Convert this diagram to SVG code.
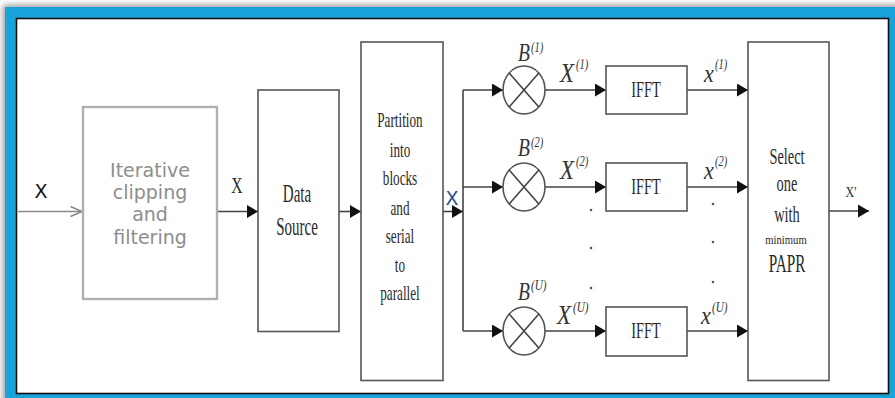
<svg xmlns="http://www.w3.org/2000/svg" width="895" height="398" viewBox="0 0 895 398">
<style>
.box{fill:#fff;stroke:#555;stroke-width:1.6}
.gbox{fill:#fff;stroke:#b0b0b0;stroke-width:2.4}
.ln{fill:none;stroke:#444;stroke-width:1.6}
.gln{fill:none;stroke:#8a8a8a;stroke-width:1.6}
.mul{fill:#fff;stroke:#555;stroke-width:1.6}
.tm{font-family:"Liberation Serif","Times New Roman",serif;fill:#2a2a2a;text-anchor:middle}
.ti{font-family:"Liberation Serif","Times New Roman",serif;font-style:italic;fill:#333}
.ts{font-family:"DejaVu Sans",Verdana,sans-serif;font-size:19px}
.dot{fill:#555}
</style>
<defs>
<marker id="ah" markerUnits="userSpaceOnUse" markerWidth="12" markerHeight="14" refX="11" refY="6.5" orient="auto">
<path d="M0,0 L11,6.5 L0,13 z" fill="#111"/>
</marker>
<marker id="oh" markerUnits="userSpaceOnUse" markerWidth="14" markerHeight="14" refX="12.5" refY="6" orient="auto">
<path d="M1,1 L12.5,6 L1,11" fill="none" stroke="#8a8a8a" stroke-width="1.6"/>
</marker>
<filter id="sh" x="-5%" y="-5%" width="110%" height="110%">
<feGaussianBlur stdDeviation="3"/>
</filter>
</defs>

<g id="frame">
<rect x="0" y="0" width="895" height="398" fill="#fff"/>
<rect x="3" y="5" width="900" height="400" fill="#999" filter="url(#sh)"/>
<rect x="5" y="7" width="890" height="391" fill="#1aa2da"/>
<rect x="16.5" y="18.5" width="872" height="375" fill="#fff" stroke="#111" stroke-width="1.6"/>
</g>

<g id="connectors">
<line class="gln" x1="18" y1="211.5" x2="82" y2="211.5" marker-end="url(#oh)"/>
<line class="ln" x1="217" y1="211.5" x2="258" y2="211.5" marker-end="url(#ah)"/>
<line class="ln" x1="339" y1="211.5" x2="361" y2="211.5" marker-end="url(#ah)"/>
<line class="ln" x1="443" y1="211.5" x2="463" y2="211.5" marker-end="url(#ah)"/>
<path class="ln" d="M463,90 V331"/>
<line class="ln" x1="463" y1="90" x2="503" y2="90" marker-end="url(#ah)"/>
<line class="ln" x1="463" y1="187" x2="503" y2="187" marker-end="url(#ah)"/>
<line class="ln" x1="463" y1="331" x2="503" y2="331" marker-end="url(#ah)"/>
<line class="ln" x1="545" y1="90" x2="606" y2="90" marker-end="url(#ah)"/>
<line class="ln" x1="545" y1="187" x2="606" y2="187" marker-end="url(#ah)"/>
<line class="ln" x1="545" y1="331" x2="606" y2="331" marker-end="url(#ah)"/>
<line class="ln" x1="687" y1="90" x2="748" y2="90" marker-end="url(#ah)"/>
<line class="ln" x1="687" y1="187" x2="748" y2="187" marker-end="url(#ah)"/>
<line class="ln" x1="687" y1="331" x2="748" y2="331" marker-end="url(#ah)"/>
<line class="ln" x1="829" y1="211" x2="869" y2="211" marker-end="url(#ah)"/>
</g>

<g id="labels">
<text class="ts" x="41" y="198" fill="#111" text-anchor="middle">X</text>
<text class="tm" font-size="24" transform="translate(237,193) scale(0.65,1)">X</text>
<text class="ts" x="452" y="205" fill="#2a4d8f" text-anchor="middle">X</text>
<text class="tm" font-size="15" transform="translate(851,197) scale(0.8,1)">X'</text>
</g>

<g id="node-iterative">
<rect class="gbox" x="83" y="107" width="134" height="192"/>
<g class="ts" fill="#8d8d8d" text-anchor="middle">
<text x="150" y="176.5">Iterative</text>
<text x="150" y="199">clipping</text>
<text x="150" y="221">and</text>
<text x="150" y="244">filtering</text>
</g>
</g>

<g id="node-datasource">
<rect class="box" x="258" y="90" width="81" height="241.5"/>
<text class="tm" font-size="25" transform="translate(297,202) scale(0.6,1)">Data</text>
<text class="tm" font-size="25" transform="translate(297,235) scale(0.6,1)">Source</text>
</g>

<g id="node-partition">
<rect class="box" x="361" y="42" width="82" height="338.5"/>
<g class="tm" font-size="22">
<text transform="translate(400,127) scale(0.6,1)">Partition</text>
<text transform="translate(400,157) scale(0.6,1)">into</text>
<text transform="translate(400,185) scale(0.6,1)">blocks</text>
<text transform="translate(400,215) scale(0.6,1)">and</text>
<text transform="translate(400,243) scale(0.6,1)">serial</text>
<text transform="translate(400,272) scale(0.6,1)">to</text>
<text transform="translate(400,300) scale(0.6,1)">parallel</text>
</g>
</g>

<g id="node-mult1">
<ellipse class="mul" cx="524" cy="90" rx="21" ry="24"/>
<path class="ln" d="M509.2,73 L538.8,107 M538.8,73 L509.2,107"/>
<text class="ti" font-size="26" transform="translate(518,61) scale(0.75,1)">B</text>
<text class="ti" font-size="15" transform="translate(531,52) scale(0.7,1)">(1)</text>
</g>
<g id="node-mult2">
<ellipse class="mul" cx="524" cy="187" rx="21" ry="24"/>
<path class="ln" d="M509.2,170 L538.8,204 M538.8,170 L509.2,204"/>
<text class="ti" font-size="26" transform="translate(518,156) scale(0.75,1)">B</text>
<text class="ti" font-size="15" transform="translate(531,147) scale(0.7,1)">(2)</text>
</g>
<g id="node-multU">
<ellipse class="mul" cx="524" cy="331" rx="21" ry="24"/>
<path class="ln" d="M509.2,314 L538.8,348 M538.8,314 L509.2,348"/>
<text class="ti" font-size="26" transform="translate(518,300) scale(0.75,1)">B</text>
<text class="ti" font-size="15" transform="translate(531,290) scale(0.75,1)">(U)</text>
</g>

<g id="xlabels">
<text class="ti" font-size="27" transform="translate(560,82) scale(0.85,1)">X</text>
<text class="ti" font-size="15" transform="translate(576,69) scale(0.7,1)">(1)</text>
<text class="ti" font-size="27" transform="translate(560,179) scale(0.85,1)">X</text>
<text class="ti" font-size="15" transform="translate(576,166) scale(0.7,1)">(2)</text>
<text class="ti" font-size="27" transform="translate(557,324) scale(0.85,1)">X</text>
<text class="ti" font-size="15" transform="translate(573,312) scale(0.75,1)">(U)</text>
<text class="ti" font-size="26" transform="translate(704,82) scale(0.85,1)">x</text>
<text class="ti" font-size="15" transform="translate(715,69) scale(0.7,1)">(1)</text>
<text class="ti" font-size="26" transform="translate(704,179) scale(0.85,1)">x</text>
<text class="ti" font-size="15" transform="translate(715,166) scale(0.7,1)">(2)</text>
<text class="ti" font-size="26" transform="translate(701,324) scale(0.85,1)">x</text>
<text class="ti" font-size="15" transform="translate(712,312) scale(0.75,1)">(U)</text>
</g>

<g id="node-ifft1">
<rect class="box" x="606" y="66" width="81" height="48"/>
<text class="tm" font-size="23" transform="translate(646,97) scale(0.62,1)">IFFT</text>
</g>
<g id="node-ifft2">
<rect class="box" x="606" y="163" width="81" height="48"/>
<text class="tm" font-size="23" transform="translate(646,194) scale(0.62,1)">IFFT</text>
</g>
<g id="node-ifftU">
<rect class="box" x="606" y="307" width="81" height="49"/>
<text class="tm" font-size="23" transform="translate(646,338) scale(0.62,1)">IFFT</text>
</g>

<g id="dots">
<circle class="dot" cx="591" cy="210" r="1.3"/>
<circle class="dot" cx="591" cy="248" r="1.3"/>
<circle class="dot" cx="591" cy="288" r="1.3"/>
<circle class="dot" cx="713" cy="204" r="1.3"/>
<circle class="dot" cx="713" cy="242" r="1.3"/>
<circle class="dot" cx="713" cy="282" r="1.3"/>
</g>

<g id="node-select">
<rect class="box" x="748" y="42" width="81" height="338.5"/>
<text class="tm" font-size="24" transform="translate(787,164) scale(0.6,1)">Select</text>
<text class="tm" font-size="24" transform="translate(787,190.5) scale(0.6,1)">one</text>
<text class="tm" font-size="24" transform="translate(787,221.5) scale(0.6,1)">with</text>
<text class="tm" font-size="13" fill="#777" transform="translate(786,244) scale(0.82,1)">minimum</text>
<text class="tm" font-size="25" transform="translate(787,272) scale(0.61,1)">PAPR</text>
</g>
</svg>
